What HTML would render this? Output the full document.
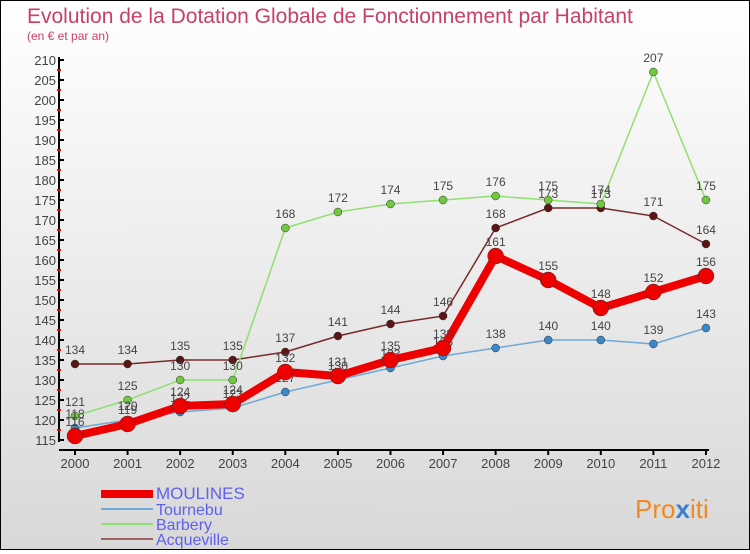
<!DOCTYPE html>
<html><head><meta charset="utf-8"><style>
html,body{margin:0;padding:0}
body{width:750px;height:550px;overflow:hidden;font-family:"Liberation Sans",sans-serif}
#wrap{position:relative;width:748px;height:548px;border:1px solid #000;background:linear-gradient(#fff,#d8d8d8)}
</style></head><body>
<div id="wrap">
<svg id="chart" width="748" height="548">
<text x="26" y="22" font-size="21" fill="#c8406a">Evolution de la Dotation Globale de Fonctionnement par Habitant</text>
<text x="26" y="39" font-size="12" fill="#c8406a">(en € et par an)</text>
<text x="634" y="517" font-size="26" fill="#f08a20">Pro<tspan fill="#3a7fd0" font-weight="bold">x</tspan>iti</text>
</svg>
</div>
<script>
const years=["2000","2001","2002","2003","2004","2005","2006","2007","2008","2009","2010","2011","2012"];
const moulines=[116,119,123.5,124,132,131,135,138,161,155,148,152,156];
const tournebu=[118,120,122,123,127,130,133,136,138,140,140,139,143];
const barbery=[121,125,130,130,168,172,174,175,176,175,174,207,175];
const acqueville=[134,134,135,135,137,141,144,146,168,173,173,171,164];
const yTicks=[115,120,125,130,135,140,145,150,155,160,165,170,175,180,185,190,195,200,205,210];
const NS="http://www.w3.org/2000/svg";
const svg=document.getElementById('chart');
const xs=i=>74+i*52.58;
const ys=v=>439-(v-115)*4;
function el(t,a,p){const e=document.createElementNS(NS,t);for(const k in a)e.setAttribute(k,a[k]);(p||svg).appendChild(e);return e;}
const ax=el('g',{});


const yl=el('line',{x1:58,y1:56,x2:58,y2:441,stroke:'#000','stroke-width':2},ax);


const xl=el('line',{x1:58,y1:449,x2:708,y2:449,stroke:'#000','stroke-width':2},ax);


yTicks.forEach(v=>{
 el('line',{x1:58,y1:ys(v),x2:63,y2:ys(v),stroke:'#000','stroke-width':2},ax);
 if(v<210)el('line',{x1:56,y1:ys(v+2.5),x2:60,y2:ys(v+2.5),stroke:'#e00','stroke-width':2},ax);
 const t=el('text',{x:55,y:ys(v)+5,'text-anchor':'end','font-size':13,fill:'#444'},ax);
 
 
 t.textContent=v;
});
years.forEach((y,i)=>{
 el('line',{x1:xs(i),y1:449,x2:xs(i),y2:454,stroke:'#000','stroke-width':2},ax);
 const t=el('text',{x:xs(i),y:467,'text-anchor':'middle','font-size':13,fill:'#444'},ax);
 
 
 t.textContent=y;
});
const series=[
 {name:'acqueville',data:acqueville,color:'#7a2a2a',dot:'#5a1515',w:1.5,r:4},
 {name:'barbery',data:barbery,color:'#90e070',dot:'#70c840',w:1.5,r:4},
 {name:'tournebu',data:tournebu,color:'#70a8d8',dot:'#3a88c8',w:1.5,r:4},
 {name:'moulines',data:moulines,color:'#ee0000',dot:'#ee0000',w:8,r:8}
];
series.forEach(s=>{
 const g=el('g',{});
 
 
 const pl=el('polyline',{points:s.data.map((v,i)=>xs(i)+','+ys(v)).join(' '),fill:'none',stroke:s.color,'stroke-width':s.w,'stroke-linejoin':'round'},g);
 
 
 s.data.forEach((v,i)=>{
  const c=el('circle',{cx:xs(i),cy:ys(v),r:s.r,fill:s.dot,stroke:'#333','stroke-width':0.5},g);
  
  
  const t=el('text',{x:xs(i),y:ys(v)-10,'text-anchor':'middle','font-size':12,fill:'#444'},g);
  
  
  t.textContent=Math.round(v);
 });
});
const legend=[['MOULINES','#ee0000',8,17],['Tournebu','#70a8d8',2,16],['Barbery','#90e070',2,16],['Acqueville','#a06060',2,16]];
const lg=el('g',{});


const ly=[492,508,523,538];
legend.forEach((l,i)=>{
 const ln=el('line',{x1:100,y1:ly[i]+(i==0?1:0),x2:152,y2:ly[i]+(i==0?1:0),stroke:l[1],'stroke-width':l[2]},lg);
 
 
 const t=el('text',{x:155,y:ly[i]+6,'font-size':l[3],fill:'#6060ee'},lg);
 
 
 t.textContent=l[0];
});
</script>
</body></html>
